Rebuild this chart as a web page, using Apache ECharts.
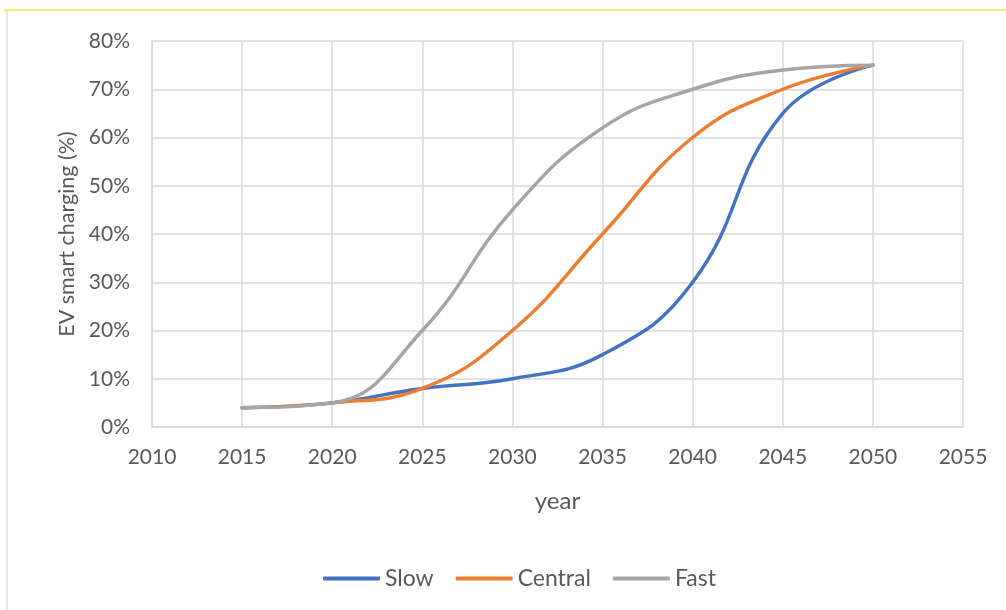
<!DOCTYPE html>
<html>
<head>
<meta charset="utf-8">
<script src="https://cdn.jsdelivr.net/npm/echarts@6/dist/echarts.min.js"></script>
<style>
  html, body { margin: 0; padding: 0; background: #fff; }
  #chart { width: 1006px; height: 610px; }
</style>
</head>
<body>
<div id="chart"></div>
<script>
// years and % values
const years = [2015, 2020, 2025, 2030, 2035, 2040, 2045, 2050]
const slow = [4, 5, 8, 10, 15, 30, 65, 75]
const central = [4, 5, 8, 20, 40, 60, 70, 75]
const fast = [4, 5, 20, 45, 62, 70, 74, 75]

const pairs = vals => years.map((y, i) => [y, vals[i]])
const txt = '#595959'
const font = 'Lato'

const mk = (name, vals, color) => ({
	name: name,
	type: 'line',
	data: pairs(vals),
	smooth: 0.45,
	symbol: 'none',
	showSymbol: false,
	lineStyle: { color: color, width: 3.5, cap: 'round' },
	itemStyle: { color: color }
})

let myChart = echarts.init(document.getElementById('chart'))
myChart.setOption({
	animation: false,
	textStyle: { fontFamily: font },
	graphic: [
		{ type: 'line', shape: { x1: 4, y1: 10, x2: 1006, y2: 10 }, style: { stroke: '#f2ec6a', lineWidth: 2 } },
		{ type: 'line', shape: { x1: 7, y1: 11, x2: 7, y2: 610 }, style: { stroke: '#dcdcd0', lineWidth: 1.5 } }
	],
	grid: { left: 152, right: 43, top: 41, bottom: 183 },
	xAxis: {
		type: 'value',
		min: 2010,
		max: 2055,
		interval: 5,
		name: 'year',
		nameLocation: 'middle',
		nameGap: 62,
		nameTextStyle: { color: txt, fontSize: 24, fontFamily: font },
		axisLine: { show: true, lineStyle: { color: '#d9d9d9', width: 1.5 } },
		axisTick: { show: false },
		splitLine: { show: true, lineStyle: { color: '#d9d9d9', width: 1.5 } },
		axisLabel: { color: txt, fontSize: 21, margin: 20, fontFamily: font, formatter: v => String(v) }
	},
	yAxis: {
		type: 'value',
		min: 0,
		max: 80,
		interval: 10,
		name: 'EV smart charging (%)',
		nameLocation: 'middle',
		nameGap: 72,
		nameTextStyle: { color: txt, fontSize: 21.5, fontFamily: font },
		axisLine: { show: true, lineStyle: { color: '#d9d9d9', width: 1.5 } },
		axisTick: { show: false },
		splitLine: { show: true, lineStyle: { color: '#d9d9d9', width: 1.5 } },
		axisLabel: { color: txt, fontSize: 21, margin: 22, formatter: '{value}%', fontFamily: font }
	},
	legend: {
		left: 318,
		top: 562,
		icon: 'roundRect',
		itemWidth: 57,
		itemHeight: 4,
		itemGap: 22,
		textStyle: { color: txt, fontSize: 23, fontFamily: font },
		data: ['Slow', 'Central', 'Fast']
	},
	series: [
		mk('Slow', slow, '#4472C4'),
		mk('Central', central, '#ED7D31'),
		mk('Fast', fast, '#A5A5A5')
	]
})
</script>
</body>
</html>
